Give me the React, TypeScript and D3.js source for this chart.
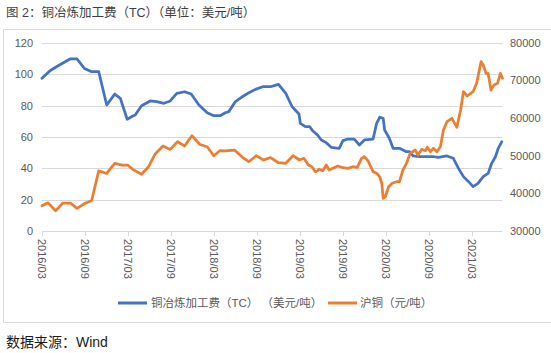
import * as d3 from "d3";

const tcDates = [
  "2016-03-01", "2016-04-04", "2016-05-07", "2016-06-28", "2016-07-28", "2016-08-28", "2016-09-28", "2016-10-28",
  "2016-12-01", "2017-01-04", "2017-01-28", "2017-02-26", "2017-03-22", "2017-04-01", "2017-04-28", "2017-06-04",
  "2017-07-01", "2017-08-01", "2017-08-28", "2017-09-25", "2017-10-28", "2017-11-25", "2017-12-28", "2018-02-01",
  "2018-03-01", "2018-03-28", "2018-04-19", "2018-05-04", "2018-06-01", "2018-07-01", "2018-07-28", "2018-08-25",
  "2018-09-25", "2018-10-28", "2018-12-01", "2019-01-01", "2019-01-28", "2019-02-26", "2019-03-04", "2019-03-25",
  "2019-04-13", "2019-04-25", "2019-05-16", "2019-06-01", "2019-06-22", "2019-07-13", "2019-08-16", "2019-09-01",
  "2019-09-22", "2019-10-19", "2019-11-10", "2019-12-01", "2020-01-07", "2020-01-22", "2020-02-04", "2020-02-19",
  "2020-02-25", "2020-03-16", "2020-04-01", "2020-04-28", "2020-05-28", "2020-06-10", "2020-06-25", "2020-07-25",
  "2020-09-22", "2020-10-10", "2020-11-16", "2020-12-13", "2021-01-04", "2021-01-25", "2021-02-16", "2021-03-07",
  "2021-03-28", "2021-04-19", "2021-05-10", "2021-05-25", "2021-06-10", "2021-06-22", "2021-07-07",
];
const tcValues = [
  97.5, 102.3, 105.3, 109.8, 109.8, 103.8, 101.7, 101.7,
  80.4, 87.4, 84.7, 71.3, 73.4, 74, 80, 83,
  82.6, 81.5, 83, 87.9, 88.9, 87.4, 80.4, 75.5,
  73.6, 73.6, 75.5, 76.2, 82.6, 85.7, 88.3, 90.4,
  92.1, 92.1, 93.6, 87.9, 79.3, 74.7, 68.7, 66.6,
  66.6, 64, 61.3, 58.1, 56.4, 53.4, 52.8, 57.7,
  58.7, 58.7, 54.9, 58.1, 58.7, 68.7, 72.6, 71.9,
  64.5, 59.2, 52.8, 52.8, 50.6, 50.6, 47.9, 47.4,
  47.4, 47, 47.9, 46.4, 40, 34.7, 31.5, 28.3,
  30.4, 34.7, 36.8, 43.2, 47.4, 52.8, 57,
];

const cuDates = [
  "2016-03-01", "2016-03-26", "2016-04-28", "2016-05-28", "2016-07-01", "2016-07-28", "2016-09-01", "2016-09-28",
  "2016-10-28", "2016-12-01", "2017-01-04", "2017-02-04", "2017-03-01", "2017-03-22", "2017-04-28", "2017-05-28",
  "2017-06-25", "2017-07-28", "2017-08-28", "2017-09-28", "2017-10-28", "2017-11-28", "2018-01-01", "2018-02-01",
  "2018-03-01", "2018-03-28", "2018-04-19", "2018-05-28", "2018-07-01", "2018-07-28", "2018-08-28", "2018-09-28",
  "2018-10-28", "2018-12-01", "2019-01-01", "2019-02-01", "2019-02-28", "2019-03-19", "2019-04-07", "2019-04-22",
  "2019-05-07", "2019-05-16", "2019-05-22", "2019-06-07", "2019-06-22", "2019-07-04", "2019-08-10", "2019-09-01",
  "2019-09-22", "2019-10-13", "2019-11-01", "2019-11-19", "2019-12-01", "2019-12-16", "2020-01-07", "2020-01-22",
  "2020-02-04", "2020-02-13", "2020-02-19", "2020-02-28", "2020-03-13", "2020-03-28", "2020-04-16", "2020-04-28",
  "2020-05-13", "2020-05-28", "2020-06-10", "2020-06-13", "2020-07-04", "2020-07-16", "2020-08-01", "2020-08-16",
  "2020-08-25", "2020-09-07", "2020-09-19", "2020-10-04", "2020-10-19", "2020-11-01", "2020-11-16", "2020-12-07",
  "2020-12-28", "2021-01-13", "2021-01-25", "2021-02-10", "2021-02-25", "2021-03-07", "2021-03-22", "2021-04-10",
  "2021-04-19", "2021-05-01", "2021-05-10", "2021-05-22", "2021-06-04", "2021-06-19", "2021-07-01", "2021-07-10",
];
const cuValues = [
  36700, 37500, 35400, 37400, 37400, 36000, 37400, 38100,
  46000, 45300, 48000, 47500, 47500, 46400, 45100, 47100,
  50500, 52600, 51700, 53750, 52600, 55350, 53000, 52400,
  50000, 51400, 51300, 51540, 49600, 48430, 50030, 48880,
  49500, 48160, 48000, 50030, 48880, 49330, 47550, 47100,
  45770, 46040, 46410, 46040, 47550, 46220, 47290, 46840,
  46670, 47100, 46930, 49330, 49760, 48700, 45770, 45350,
  44440, 42690, 38700, 39120, 41780, 42690, 43110, 43110,
  46220, 48000, 50210, 50660, 51540, 50210, 51730, 51360,
  52260, 51090, 51990, 51090, 52420, 56860, 59070, 59970,
  57580, 62180, 67050, 65910, 66620, 67050, 69280, 75030,
  74150, 71940, 71940, 67500, 68820, 69280, 71940, 70610,
];

const xTickLabels = [
  "2016/03", "2016/09", "2017/03", "2017/09", "2018/03", "2018/09",
  "2019/03", "2019/09", "2020/03", "2020/09", "2021/03",
];
const leftTicks = [0, 20, 40, 60, 80, 100, 120];
const rightTicks = [30000, 40000, 50000, 60000, 70000, 80000];

const width = 551;
const height = 353;
const plot = { left: 42, right: 502.5, top: 43, bottom: 231 };
const font = "'Liberation Sans', 'Noto Sans CJK SC', sans-serif";
const blue = "#4472C4";
const orange = "#ED7D31";

const parse = d3.timeParse("%Y-%m-%d");

export default function App() {
  const x = d3
    .scaleTime()
    .domain([parse("2016-03-01")!, parse("2021-07-10")!])
    .range([plot.left, plot.right]);
  const yLeft = d3.scaleLinear().domain([0, 120]).range([plot.bottom, plot.top]);
  const yRight = d3.scaleLinear().domain([30000, 80000]).range([plot.bottom, plot.top]);

  const tcData = tcDates.map((d, i) => ({ date: parse(d)!, value: tcValues[i] }));
  const cuData = cuDates.map((d, i) => ({ date: parse(d)!, value: cuValues[i] }));

  const tcLine = d3
    .line<{ date: Date; value: number }>()
    .x((d) => x(d.date))
    .y((d) => yLeft(d.value));
  const cuLine = d3
    .line<{ date: Date; value: number }>()
    .x((d) => x(d.date))
    .y((d) => yRight(d.value));

  const tickDates = xTickLabels.map((label) => d3.timeParse("%Y/%m")(label)!);

  return (
    <svg
      width={width}
      height={height}
      style={{ position: "absolute", left: 0, top: 0, background: "#fff" }}
      fontFamily={font}
    >
      <text x={6} y={17} fontSize={12.5} fill="#404040">
        图 2：铜冶炼加工费（TC）（单位：美元/吨）
      </text>

      {/* frame */}
      <line x1={3.5} x2={width} y1={29.5} y2={29.5} stroke="#d9d9d9" />
      <line x1={3.5} x2={width} y1={322.5} y2={322.5} stroke="#d9d9d9" />
      <line x1={3.5} x2={3.5} y1={29.5} y2={322.5} stroke="#d9d9d9" />

      {leftTicks.map((t) => (
        <g key={t}>
          <line x1={plot.left} x2={plot.right} y1={Math.round(yLeft(t)) + 0.5} y2={Math.round(yLeft(t)) + 0.5} stroke="#d9d9d9" />
          <text x={33} y={yLeft(t)} dy="0.35em" textAnchor="end" fontSize={11} fill="#595959">
            {t}
          </text>
        </g>
      ))}

      {rightTicks.map((t) => (
        <text key={t} x={510} y={yRight(t)} dy="0.35em" fontSize={11} fill="#595959">
          {t}
        </text>
      ))}

      {tickDates.map((d, i) => (
        <g key={xTickLabels[i]}>
          <line x1={Math.round(x(d)) + 0.5} x2={Math.round(x(d)) + 0.5} y1={plot.bottom} y2={plot.bottom + 5} stroke="#d9d9d9" />
          <text
            transform={`translate(${x(d)}, ${plot.bottom + 8}) rotate(90)`}
            dy="0.35em"
            fontSize={11}
            fill="#595959"
          >
            {xTickLabels[i]}
          </text>
        </g>
      ))}

      <path d={tcLine(tcData) ?? ""} fill="none" stroke={blue} strokeWidth={2.75} strokeLinejoin="round" strokeLinecap="round" />
      <path d={cuLine(cuData) ?? ""} fill="none" stroke={orange} strokeWidth={2.75} strokeLinejoin="round" strokeLinecap="round" />

      {/* legend */}
      <line x1={118} x2={147} y1={303} y2={303} stroke={blue} strokeWidth={3} />
      <text x={151} y={303} dy="0.35em" fontSize={11.5} fill="#595959">
        铜冶炼加工费（TC） （美元/吨）
      </text>
      <line x1={328} x2={357} y1={303} y2={303} stroke={orange} strokeWidth={3} />
      <text x={360} y={303} dy="0.35em" fontSize={11.5} fill="#595959">
        沪铜（元/吨）
      </text>

      <text x={6} y={347} fontSize={14} fill="#1a1a1a">
        数据来源：Wind
      </text>
    </svg>
  );
}
